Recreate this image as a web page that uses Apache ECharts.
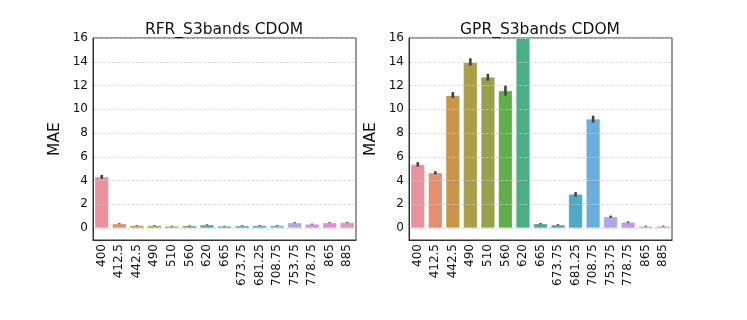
<!DOCTYPE html>
<html>
<head>
<meta charset="utf-8">
<script src="https://cdn.jsdelivr.net/npm/echarts@6/dist/echarts.min.js"></script>
<style>
	html,body{margin:0;padding:0;background:#fff;}
	#chart{width:747px;height:320px;}
</style>
</head>
<body>
<div id="chart"></div>
<script>
// bands on the x axis
var bands = ['400','412.5','442.5','490','510','560','620','665','673.75','681.25','708.75','753.75','778.75','865','885'];

// RFR mean MAE and error bar ends
var rfrMae  = [4.32, 0.37, 0.22, 0.22, 0.17, 0.2, 0.28, 0.17, 0.2, 0.22, 0.22, 0.45, 0.34, 0.45, 0.48];
var rfrLow  = [4.16, 0.33, 0.19, 0.19, 0.14, 0.17, 0.24, 0.14, 0.17, 0.19, 0.19, 0.41, 0.3, 0.41, 0.44];
var rfrHigh = [4.48, 0.41, 0.25, 0.25, 0.2, 0.23, 0.32, 0.2, 0.23, 0.25, 0.25, 0.49, 0.38, 0.49, 0.52];

// GPR mean MAE and error bar ends (620 runs off the top)
var gprMae  = [5.36, 4.66, 11.17, 13.95, 12.72, 11.56, 17.5, 0.37, 0.28, 2.86, 9.18, 0.96, 0.5, 0.16, 0.17];
var gprLow  = [5.17, 4.53, 10.95, 13.67, 12.41, 11.14, 17.2, 0.32, 0.23, 2.66, 8.88, 0.88, 0.44, 0.12, 0.13];
var gprHigh = [5.55, 4.79, 11.45, 14.29, 12.99, 11.99, 17.8, 0.42, 0.33, 3.03, 9.46, 1.05, 0.56, 0.2, 0.21];

var yTicks = [0, 2, 4, 6, 8, 10, 12, 14, 16];

var palette = ['#e8929f','#e3906f','#c9954a','#aa9e4a','#96a24a','#5fae4a','#4bae87',
	'#4aaa9c','#4aa8ab','#4faac4','#6aaee0','#aaaaeb','#cd93e6','#e78ad6','#e792be'];

var chart = echarts.init(document.getElementById('chart'));
var fontFam = 'DejaVu Sans';

function errData(low, high){
	var arr = [];
	for (var i = 0; i < low.length; i++) arr.push([i, low[i], high[i]]);
	return arr;
}

function errRender(params, api){
	var p1 = api.coord([api.value(0), api.value(1)]);
	var p2 = api.coord([api.value(0), api.value(2)]);
	return {
		type: 'line',
		shape: {x1: p1[0], y1: p1[1], x2: p2[0], y2: p2[1]},
		style: {stroke: '#424242', lineWidth: 2.6}
	};
}

function makeX(idx){
	return {
		type: 'category', gridIndex: idx, data: bands,
		axisLine: {onZero: false, lineStyle: {color: '#333', width: 1}},
		axisTick: {alignWithLabel: true, length: 4, lineStyle: {color: '#333'}},
		axisLabel: {rotate: 90, fontSize: 12, margin: 4, color: '#111', fontFamily: fontFam}
	};
}

function makeY(idx){
	return {
		type: 'value', gridIndex: idx, min: -1, max: 16, interval: 1, z: 5,
		name: 'MAE', nameLocation: 'middle', nameGap: 30,
		nameTextStyle: {fontSize: 15.5, color: '#111', fontFamily: fontFam},
		axisLine: {show: true, lineStyle: {color: '#333', width: 1}},
		axisTick: {show: false},
		axisLabel: {
			fontSize: 12, margin: 5, color: '#111', fontFamily: fontFam,
			formatter: function(v){ return yTicks.indexOf(v) >= 0 ? String(v) : ''; }
		},
		splitLine: {show: true, lineStyle: {type: 'dashed', width: 0.8, color: ['rgba(0,0,0,0)', 'rgba(205,205,205,0.85)']}}
	};
}

function barSeries(idx, vals){
	return {
		type: 'bar', xAxisIndex: idx, yAxisIndex: idx, data: vals,
		barCategoryGap: '20%', clip: true,
		itemStyle: {
			color: function(p){ return palette[p.dataIndex]; },
			borderColor: 'rgba(255,255,255,0.4)', borderWidth: 0.6
		}
	};
}

function errSeries(idx, low, high){
	return {
		type: 'custom', xAxisIndex: idx, yAxisIndex: idx, z: 6, clip: true,
		renderItem: errRender, data: errData(low, high),
		encode: {x: 0, y: [1, 2]}
	};
}

var option = {
	animation: false,
	title: [
		{text: 'RFR_S3bands CDOM', left: 224, top: 22, textAlign: 'center', padding: 0,
			textStyle: {fontSize: 15.5, fontWeight: 'normal', color: '#111', fontFamily: fontFam}},
		{text: 'GPR_S3bands CDOM', left: 540, top: 22, textAlign: 'center', padding: 0,
			textStyle: {fontSize: 15.5, fontWeight: 'normal', color: '#111', fontFamily: fontFam}}
	],
	grid: [
		{left: 93, top: 38, width: 263, height: 202, show: true, borderColor: '#333', borderWidth: 1},
		{left: 409, top: 38, width: 263, height: 202, show: true, borderColor: '#333', borderWidth: 1}
	],
	xAxis: [makeX(0), makeX(1)],
	yAxis: [makeY(0), makeY(1)],
	series: [
		barSeries(0, rfrMae),
		errSeries(0, rfrLow, rfrHigh),
		barSeries(1, gprMae),
		errSeries(1, gprLow, gprHigh)
	]
};
chart.setOption(option);
</script>
</body>
</html>
